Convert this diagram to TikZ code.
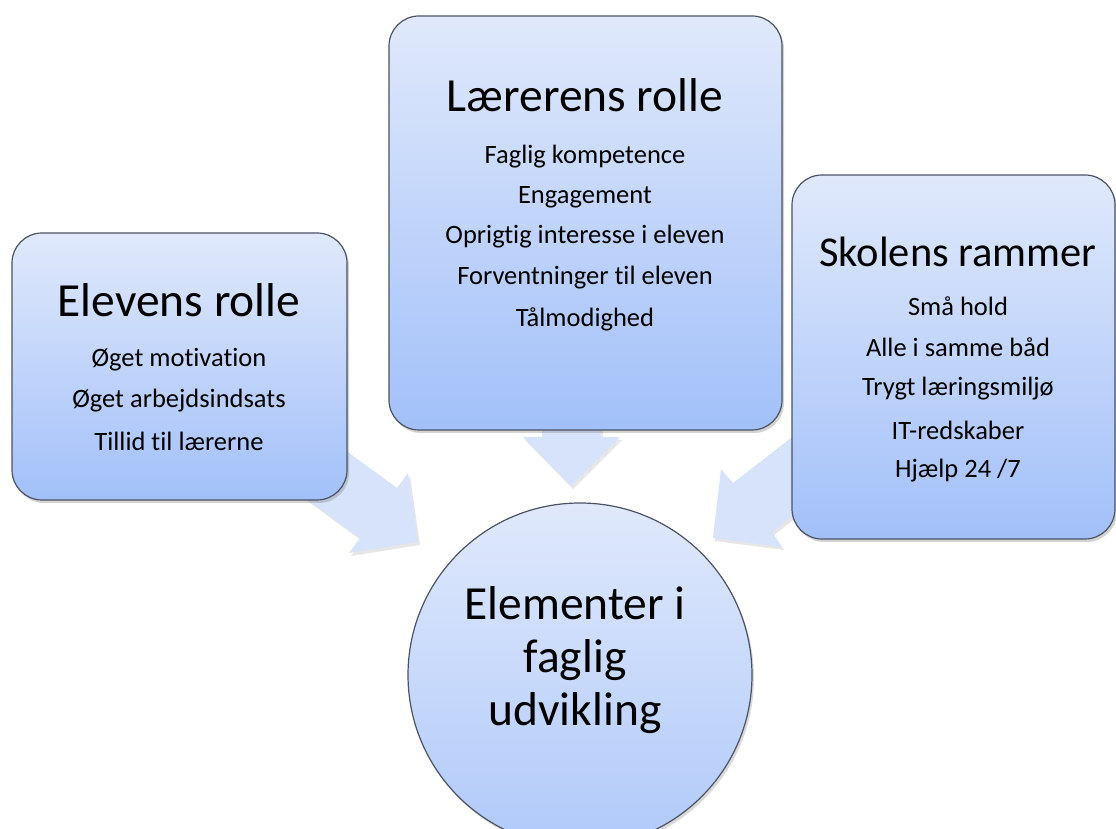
\documentclass[tikz,border=0pt]{standalone}
\usepackage{fontspec}
\setmainfont{Carlito}[Ligatures=NoCommon]
\usetikzlibrary{shadows,calc}
\definecolor{boxtop}{RGB}{224,233,251}
\definecolor{boxbot}{RGB}{162,192,249}
\definecolor{arrowc}{RGB}{214,227,251}
\definecolor{edgec}{RGB}{75,82,98}
\tikzset{
  panel/.style={draw=edgec, line width=1.2pt, rounded corners=30pt, top color=boxtop, bottom color=boxbot,
    drop shadow={opacity=0.35, shadow xshift=2pt, shadow yshift=-3pt}},
  bigarrow/.style={fill=arrowc, draw=none,
    drop shadow={opacity=0.2, shadow xshift=2pt, shadow yshift=-3pt}},
  ttl/.style={font=\fontsize{47.5}{52}\selectfont, inner sep=0pt},
  ttlsmall/.style={font=\fontsize{42.5}{48}\selectfont, inner sep=0pt},
  item/.style={font=\fontsize{26.5}{30}\selectfont, inner sep=0pt},
  ctext/.style={font=\fontsize{47.5}{53}\selectfont, align=center, inner sep=0pt}
}
\begin{document}
\begin{tikzpicture}[x=1pt,y=1pt]
\useasboundingbox (0,0) rectangle (1116,829);
% arrows (behind)
\coordinate (la1) at (300,{829-417});
\coordinate (la2) at (397,{829-488});
\coordinate (la3) at (408,{829-473});
\coordinate (latip) at (418,{829-542});
\coordinate (la4) at (349,{829-553});
\coordinate (la5) at (360,{829-538});
\coordinate (la6) at (263,{829-467});
\fill[bigarrow] (la1) -- (la2) -- (la3) -- (latip) -- (la4) -- (la5) -- (la6) -- cycle;
\coordinate (ma1) at (542,{829-420});
\coordinate (ma2) at (542,{829-437});
\coordinate (ma3) at (523,{829-437});
\coordinate (matip) at (571,{829-486});
\coordinate (ma4) at (620,{829-437});
\coordinate (ma5) at (601,{829-437});
\coordinate (ma6) at (601,{829-420});
\fill[bigarrow] (ma1) -- (ma2) -- (ma3) -- (matip) -- (ma4) -- (ma5) -- (ma6) -- cycle;
\coordinate (ra1) at (836,{829-403});
\coordinate (ra2) at (733,{829-483});
\coordinate (ra3) at (721,{829-469});
\coordinate (ratip) at (713,{829-538});
\coordinate (ra4) at (782,{829-547});
\coordinate (ra5) at (772,{829-532});
\coordinate (ra6) at (875,{829-452});
\fill[bigarrow] (ra1) -- (ra2) -- (ra3) -- (ratip) -- (ra4) -- (ra5) -- (ra6) -- cycle;
% circle
\node[circle, draw=edgec, line width=1.2pt, top color=boxtop, bottom color=boxbot!85!white,
  minimum size=344pt, inner sep=0pt,
  drop shadow={opacity=0.3, shadow xshift=2pt, shadow yshift=-3pt}] (core) at (580,{829-675}) {};
\node[ctext] (coretext) at (575,{829-660}) {Elementer i\\faglig\\udvikling};
% left box
\node[panel, minimum width=335pt, minimum height=267pt, inner sep=0pt] (left) at (179.5,{829-366.5}) {};
\node[ttl] (lt) at (179,{829-300}) {Elevens rolle};
\node[item] (l1) at (179,{829-360}) {Øget motivation};
\node[item] (l2) at (179,{829-401}) {Øget arbejdsindsats};
\node[item] (l3) at (179,{829-441}) {Tillid til lærerne};
% middle box
\node[panel, minimum width=393pt, minimum height=414pt, inner sep=0pt] (mid) at (585.5,{829-223}) {};
\node[ttl] (mt) at (585,{829-95}) {Lærerens rolle};
\node[item] (m1) at (585,{829-157}) {Faglig kompetence};
\node[item] (m2) at (585,{829-197}) {Engagement};
\node[item] (m3) at (585,{829-237}) {Oprigtig interesse i eleven};
\node[item] (m4) at (585,{829-278}) {Forventninger til eleven};
\node[item] (m5) at (585,{829-319}) {Tålmodighed};
% right box
\node[panel, minimum width=323pt, minimum height=364pt, inner sep=0pt] (right) at (953.5,{829-357}) {};
\node[ttlsmall] (rt) at (958,{829-252}) {Skolens rammer};
\node[item] (r1) at (958,{829-306}) {Små hold};
\node[item] (r2) at (958,{829-347}) {Alle i samme båd};
\node[item] (r3) at (958,{829-389}) {Trygt læringsmiljø};
\node[item] (r4) at (958,{829-430}) {IT-redskaber};
\node[item] (r5) at (958,{829-471}) {Hjælp 24 /7};
\end{tikzpicture}
\end{document}
